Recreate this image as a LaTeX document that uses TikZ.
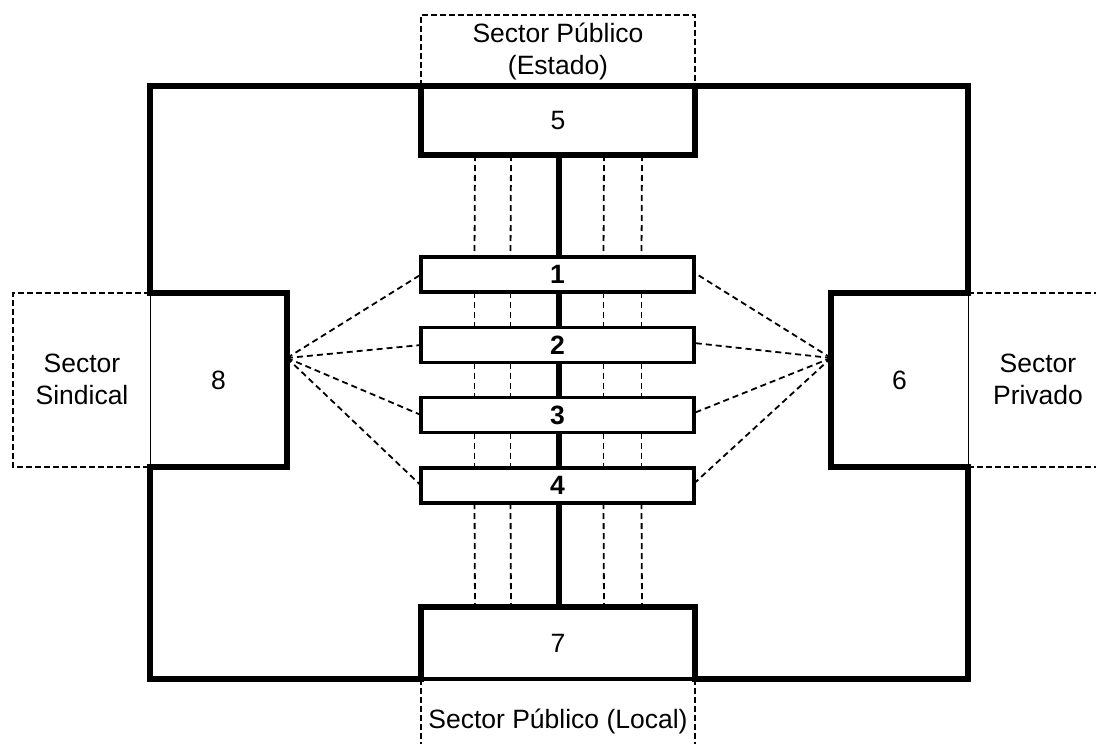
\documentclass[tikz,border=0pt]{standalone}
\usepackage{fontspec}
\setmainfont{Liberation Sans}
\begin{document}
\begin{tikzpicture}[x=1pt,y=-1pt,
  thickline/.style={line width=6pt,line cap=rect},
  box/.style={draw=none,fill=white,inner sep=0pt,outer sep=0pt,font=\fontsize{26.5}{32}\selectfont},
  bar/.style={draw,line width=3.5pt,fill=white,minimum width=273pt,minimum height=35pt,inner sep=0pt,outer sep=0pt,font=\fontsize{26.5}{32}\selectfont\bfseries},
  dl/.style={dash pattern=on 6pt off 4pt,line width=1.8pt},
  dbox/.style={dash pattern=on 6pt off 3pt,line width=2.3pt},
  lbl/.style={align=center,font=\fontsize{26.5}{32}\selectfont,inner sep=0pt}
]
\useasboundingbox (0,0) rectangle (1096,744);

% outer frame
\draw[thickline] (150,293) -- (150,86) -- (968,86) -- (968,293);
\draw[thickline] (968,467) -- (968,679) -- (695,679);
\draw[thickline] (421,679) -- (150,679) -- (150,467);

% main boxes
\node[box,minimum width=274pt,minimum height=69pt] (b5) at (558,120.5) {5};
\node[box,minimum width=274pt,minimum height=72pt] (b7) at (558,643) {7};
\node[box,minimum width=137pt,minimum height=174pt] (b8) at (218.5,380) {8};
\node[box,minimum width=137pt,minimum height=174pt] (b6) at (899.5,380) {6};

\draw[thickline] (b5.north west) rectangle (b5.south east);
\draw[thickline] (b7.south west) -- (b7.north west) -- (b7.north east) -- (b7.south east);
\draw[line width=3.5pt] (b7.south west) -- (b7.south east);
\draw[thickline] (b8.north west) -- (b8.north east) -- (b8.south east) -- (b8.south west);
\draw[line width=1pt] (b8.north west) -- (b8.south west);
\draw[thickline] (b6.north east) -- (b6.north west) -- (b6.south west) -- (b6.south east);
\draw[line width=1pt] (b6.north east) -- (b6.south east);

% bars
\node[bar] (bar1) at (557.5,274.5) {1};
\node[bar] (bar2) at (557.5,345) {2};
\node[bar] (bar3) at (557.5,415) {3};
\node[bar] (bar4) at (557.5,485.5) {4};

% central spine
\draw[line width=6pt] ([xshift=1pt]b5.south) -- ([xshift=1.5pt]bar1.north);
\draw[line width=6pt] ([xshift=1.5pt]bar1.south) -- ([xshift=1.5pt]bar2.north);
\draw[line width=6pt] ([xshift=1.5pt]bar2.south) -- ([xshift=1.5pt]bar3.north);
\draw[line width=6pt] ([xshift=1.5pt]bar3.south) -- ([xshift=1.5pt]bar4.north);
\draw[line width=6pt] ([xshift=1.5pt]bar4.south) -- ([xshift=1pt]b7.north);

% vertical dashed links
\foreach \dx in {-83,-47,46,84} {
  \draw[dl] ([xshift=\dx pt]b5.south) -- ([xshift=\dx pt]bar1.north);
  \draw[dl] ([xshift=\dx pt]bar1.south) -- ([xshift=\dx pt]bar2.north);
  \draw[dl] ([xshift=\dx pt]bar2.south) -- ([xshift=\dx pt]bar3.north);
  \draw[dl] ([xshift=\dx pt]bar3.south) -- ([xshift=\dx pt]bar4.north);
  \draw[dl] ([xshift=\dx pt]bar4.south) -- ([xshift=\dx pt]b7.north);
}

% fan lines
\coordinate (fl) at ([yshift=22pt]b8.east);
\coordinate (fr) at ([yshift=22pt]b6.west);
\foreach \i in {1,...,4} {
  \draw[dl] (fl) -- (bar\i.west);
  \draw[dl] (fr) -- ([yshift=2pt]bar\i.east);
}

% dashed sector boxes
\coordinate (tl) at (421,15);
\coordinate (tr) at (695,15);
\draw[dbox] (b5.north west) -- (tl) -- (tr) -- (b5.north east);
\coordinate (ll) at (13,293);
\coordinate (lb) at (13,467);
\draw[dbox] (b8.north west) -- (ll) -- (lb) -- (b8.south west);
\coordinate (rt) at (1100,293);
\coordinate (rb) at (1100,467);
\draw[dbox] (b6.north east) -- (rt);
\draw[dbox] (b6.south east) -- (rb);
\coordinate (bl) at (421,748);
\coordinate (br) at (695,748);
\draw[dbox] (b7.south west) -- (bl);
\draw[dbox] (b7.south east) -- (br);

% sector labels
\node[lbl] (sEstado) at (558,51) {Sector Público\\(Estado)};
\node[lbl] (sSind) at (82,379) {Sector\\Sindical};
\node[lbl] (sPriv) at (1038,379) {Sector\\Privado};
\node[lbl] (sLocal) at (558,721) {Sector Público (Local)};
\end{tikzpicture}
\end{document}
